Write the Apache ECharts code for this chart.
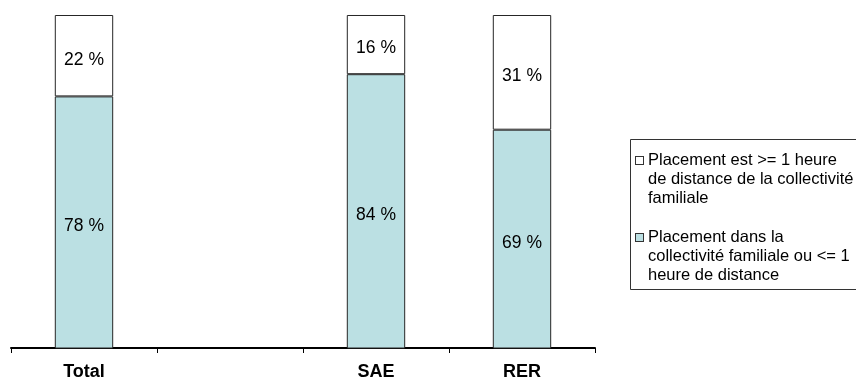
<!DOCTYPE html>
<html>
<head>
<meta charset="utf-8">
<script src="https://cdn.jsdelivr.net/npm/echarts@6/dist/echarts.min.js"></script>
<style>
  html, body { margin: 0; padding: 0; background: #fff; }
  #chart { width: 856px; height: 381px; }
</style>
</head>
<body>
<div id="chart"></div>
<script>
// Categories along the x axis (the second slot is an empty spacer)
const categories = ['Total', '', 'SAE', 'RER'];

// Share of placements (%) per group
const procheValues = [78, null, 84, 69];   // in the family community or <= 1 hour away
const eloigneValues = [22, null, 16, 31];  // >= 1 hour away from the family community

const seriesNames = [
  'Placement dans la collectivité familiale ou <= 1 heure de distance',
  'Placement est >= 1 heure de distance de la collectivité familiale'
];

// Legend text, broken into lines
const legendLines = {
  [seriesNames[1]]: ['Placement est >= 1 heure', 'de distance de la collectivité', 'familiale'],
  [seriesNames[0]]: ['Placement dans la', 'collectivité familiale ou <= 1', 'heure de distance']
};

const colorProche = '#bbe0e3';
const colorEloigne = '#ffffff';
const edgeColor = '#262626';
const fontFamily = '"Liberation Sans", Arial, sans-serif';

const chart = echarts.init(document.getElementById('chart'), null, { renderer: 'canvas' });

const labelStyle = {
  show: true,
  position: 'inside',
  offset: [0, 4],
  formatter: p => p.value + ' %',
  color: '#000',
  fontSize: 17.5,
  fontFamily: fontFamily
};

chart.setOption({
  animation: false,
  backgroundColor: '#fff',
  grid: { left: 11, right: 261, top: 15, bottom: 33 },
  xAxis: {
    type: 'category',
    data: categories,
    axisLine: { lineStyle: { color: '#000', width: 2 } },
    axisTick: { show: true, length: 5, lineStyle: { color: '#000', width: 1 } },
    axisLabel: {
      color: '#000',
      fontSize: 18,
      fontWeight: 'bold',
      fontFamily: fontFamily,
      margin: 15
    }
  },
  yAxis: {
    type: 'value',
    min: 10,
    max: 100,
    show: false,
    splitLine: { show: false }
  },
  // Frame around the legend; it runs past the right edge of the canvas
  graphic: [{
    type: 'rect',
    z: 0,
    shape: { x: 630.5, y: 139.5, width: 300, height: 150 },
    style: { fill: 'none', stroke: '#333', lineWidth: 1 }
  }],
  legend: {
    orient: 'vertical',
    left: 630,
    top: 139,
    padding: [12, 10, 4, 1],
    itemGap: 20,
    itemWidth: 0,
    itemHeight: 8,
    icon: 'none',
    data: [seriesNames[1], seriesNames[0]],
    formatter: name => {
      const lines = legendLines[name];
      const box = name === seriesNames[0] ? 'bp' : 'be';
      return lines.map((l, i) => (i === 0 ? '{' + box + '|}{g|}' : '{ind|}') + '{t|' + l + '}').join('\n');
    },
    textStyle: {
      color: '#000',
      fontFamily: fontFamily,
      fontSize: 16.5,
      lineHeight: 19,
      rich: {
        t: { fontSize: 16.5, lineHeight: 19, color: '#000', fontFamily: fontFamily },
        be: { width: 7, height: 7, backgroundColor: colorEloigne, borderColor: '#333', borderWidth: 1 },
        bp: { width: 7, height: 7, backgroundColor: colorProche, borderColor: '#333', borderWidth: 1 },
        g: { width: 5 },
        ind: { width: 12 }
      }
    }
  },
  series: [
    {
      name: seriesNames[0],
      type: 'bar',
      stack: 'total',
      data: procheValues,
      barWidth: '40%',
      itemStyle: { color: colorProche, borderColor: edgeColor, borderWidth: 1 },
      label: labelStyle
    },
    {
      name: seriesNames[1],
      type: 'bar',
      stack: 'total',
      data: eloigneValues,
      barWidth: '40%',
      itemStyle: { color: colorEloigne, borderColor: edgeColor, borderWidth: 1 },
      label: labelStyle
    }
  ]
});
</script>
</body>
</html>
